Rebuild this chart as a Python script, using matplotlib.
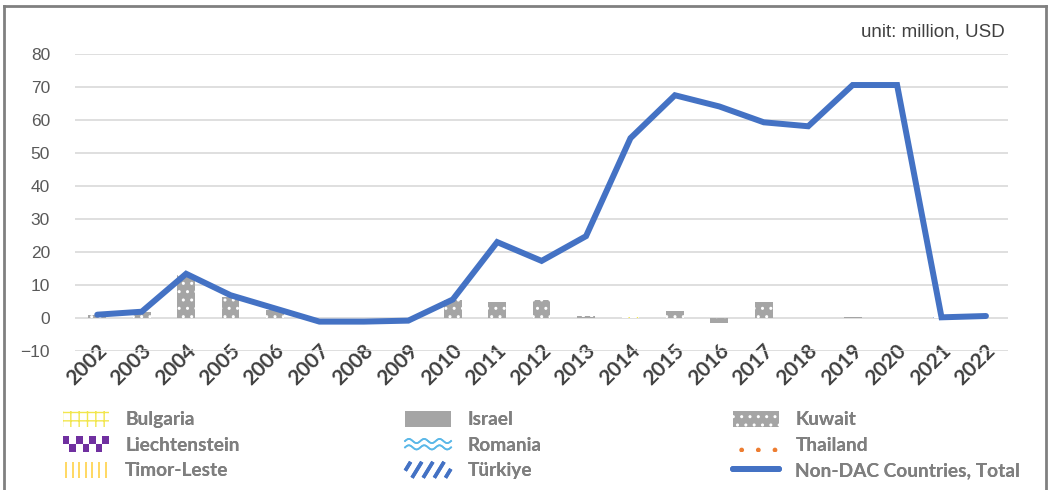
import matplotlib
matplotlib.use('Agg')
import matplotlib.pyplot as plt
import matplotlib.patches as mpatches
import matplotlib.transforms as mtransforms
from matplotlib.lines import Line2D
from matplotlib.legend_handler import HandlerBase
import numpy as np

years = [str(y) for y in range(2002, 2023)]

# per-country contributions (million USD)
bulgaria      = [0, 0, 0, 0, 0, 0, 0, 0, 0, 0, 0, 0, 0.15, 0, 0, 0, 0, 0, 0, 0, 0]
israel        = [0, 0, 0, 0, 0, 0, 0, 0, 0, 0, 0, 0.3, 0, 0, 0, 0, 0, 0.2, 0, 0, 0]
kuwait        = [0.8, 1.7, 13.0, 6.5, 2.5, 0, 0, 0, 5.6, 4.9, 5.5, 0.4, 0, 2.1, -1.6, 4.7, 0, 0, 0, 0, 0]
liechtenstein = [0, 0, 0, 0, 0, 0, 0, 0, 0, 0, 0, 0, 0, 0, 0, 0, 0, 0, 0, 0, 0]
romania       = [0, 0, 0, 0, 0, 0, 0, 0, 0, 0, 0, 0, 0, 0, 0, 0, 0, 0, 0, 0, 0]
thailand      = [0, 0, 0, 0, 0, 0, 0, 0, 0, 0, 0, 0, 0.1, 0, 0, 0, 0, 0, 0, 0, 0]
timor_leste   = [0, 0, 0, 0, 0, 0, 0, 0, 0, 0, 0, 0, 0, 0, 0, 0, 0, 0, 0, 0, 0]
turkiye       = [0, 0, 0, 0, 0, 0, 0, 0, 0, 0, 0, 0, 0, 0, 0, 0, 0, 0, 0, 0.3, 0]

total = [1.0, 1.9, 13.4, 6.9, 2.9, -1.1, -1.1, -0.8, 5.6, 23.0, 17.3, 24.8,
         54.5, 67.5, 64.1, 59.3, 58.1, 70.6, 70.6, 0.2, 0.6]

series = [
    ('Bulgaria', bulgaria, dict(facecolor='white', edgecolor='#f2e64d', hatch='++')),
    ('Israel', israel, dict(facecolor='#a5a5a5', edgecolor='#a5a5a5')),
    ('Kuwait', kuwait, dict(facecolor='#a5a5a5', edgecolor='white', hatch='..')),
    ('Liechtenstein', liechtenstein, dict(facecolor='#7030a0', edgecolor='#7030a0')),
    ('Romania', romania, dict(facecolor='white', edgecolor='#5bb8e8', hatch='--')),
    ('Thailand', thailand, dict(facecolor='white', edgecolor='#ed7d31', hatch='.')),
    ('Timor-Leste', timor_leste, dict(facecolor='white', edgecolor='#ffd966', hatch='||')),
    ('Türkiye', turkiye, dict(facecolor='white', edgecolor='#4472c4', hatch='////')),
]

fig = plt.figure(figsize=(10.48, 4.9), dpi=100)
ax = fig.add_axes([0.0716, 0.2837, 0.8904, 0.6061])

x = np.arange(len(years))
pos_bottom = np.zeros(len(years))
neg_bottom = np.zeros(len(years))
handles = {}
for name, vals, style in series:
    v = np.array(vals, dtype=float)
    bottom = np.where(v >= 0, pos_bottom, neg_bottom)
    ax.bar(x, v, 0.4, bottom=bottom, linewidth=0, zorder=2, **style)
    handles[name] = mpatches.Patch(linewidth=0, **style)
    pos_bottom += np.where(v > 0, v, 0)
    neg_bottom += np.where(v < 0, v, 0)

ax.plot(x, total, color='#4472c4', lw=4.3, solid_capstyle='round',
        solid_joinstyle='miter', zorder=3)
handles['Non-DAC Countries, Total'] = Line2D([], [], color='#4472c4', lw=4.3,
                                             solid_capstyle='round')

ax.set_xlim(-0.5, len(years) - 0.5)
ax.set_ylim(-10, 80)
ax.set_yticks(range(-10, 81, 10))
ax.yaxis.grid(True, color='#d9d9d9', lw=1.2)
ax.set_axisbelow(True)
for s in ax.spines.values():
    s.set_visible(False)
ax.tick_params(length=0)
ax.tick_params(axis='y', labelsize=12.5, labelcolor='#595959', pad=18)
for t in ax.get_yticklabels():
    t.set_fontfamily('Liberation Sans')

ax.set_xticks(x)
ax.set_xticklabels(years, rotation=45, ha='right', va='center',
                   rotation_mode='anchor', fontsize=15, fontweight='bold',
                   color='#404040', family='Lato')
ax.tick_params(axis='x', pad=0)
shift = mtransforms.ScaledTranslation(0.065, 0.035, fig.dpi_scale_trans)
for t in ax.get_xticklabels():
    t.set_transform(t.get_transform() + shift)

fig.text(0.959, 0.935, 'unit: million, USD', ha='right', va='center',
         fontsize=13.5, color='#404040', family='Liberation Sans')


class CheckerHandler(HandlerBase):
    def create_artists(self, legend, orig_handle, xdescent, ydescent,
                       width, height, fontsize, trans):
        arts = []
        n = 7
        w = width / n
        h = height * 0.5
        for i in range(n):
            yy = -ydescent + (h if i % 2 == 0 else 0)
            arts.append(mpatches.Rectangle((-xdescent + i * w, yy), w, h,
                                           facecolor='#7030a0', edgecolor='none',
                                           transform=trans))
        return arts


class WaveHandler(HandlerBase):
    def create_artists(self, legend, orig_handle, xdescent, ydescent,
                       width, height, fontsize, trans):
        xs = np.linspace(0, width, 80)
        arts = []
        for frac in (0.3, 0.7):
            ys = -ydescent + height * frac + 1.5 * np.sin(xs / width * 2 * np.pi * 3)
            arts.append(Line2D(xs - xdescent, ys, color='#5bb8e8', lw=1.2,
                               transform=trans))
        return arts


class StripeHandler(HandlerBase):
    """Parallel stripes clipped to the handle box; lean is the x shift over full height."""
    def __init__(self, color, n, lean, lw):
        super().__init__()
        self.color, self.n, self.lean, self.lw = color, n, lean, lw

    def create_artists(self, legend, orig_handle, xdescent, ydescent,
                       width, height, fontsize, trans):
        arts = []
        step = (width + abs(self.lean)) / self.n
        for i in range(self.n):
            c = step * (i + 0.5) - max(self.lean, 0)
            ys = np.linspace(0, height, 30)
            xs = c + self.lean * ys / height
            keep = (xs >= 0) & (xs <= width)
            if keep.sum() < 2:
                continue
            arts.append(Line2D(xs[keep] - xdescent, ys[keep] - ydescent,
                               color=self.color, lw=self.lw,
                               solid_capstyle='butt', transform=trans))
        return arts


columns = [
    (['Bulgaria', 'Liechtenstein', 'Timor-Leste'], 0.060),
    (['Israel', 'Romania', 'Türkiye'], 0.3865),
    (['Kuwait', 'Thailand', 'Non-DAC Countries, Total'], 0.6995),
]
hmap = {handles['Liechtenstein']: CheckerHandler(),
        handles['Romania']: WaveHandler(),
        handles['Timor-Leste']: StripeHandler('#ffd966', 7, 0, 1.4),
        handles['Türkiye']: StripeHandler('#4472c4', 5, 7, 2.6)}
for names, xpos in columns:
    leg = fig.legend([handles[n] for n in names], names, loc='upper left',
                     bbox_to_anchor=(xpos, 0.162), frameon=False,
                     handlelength=2.4, handleheight=0.9, handletextpad=0.85,
                     labelspacing=0.42, borderaxespad=0, borderpad=0,
                     handler_map=hmap,
                     prop={'family': 'Lato', 'weight': 'bold', 'size': 13.8})
    for t in leg.get_texts():
        t.set_color('#7f7f7f')
    fig.add_artist(leg)

# outer frame
frame_kw = dict(color='#808080', lw=2, transform=fig.transFigure)
fig.add_artist(Line2D([0.004, 0.004], [0, 0.988], **frame_kw))
fig.add_artist(Line2D([0.004, 0.998], [0.988, 0.988], **frame_kw))
fig.add_artist(Line2D([0.998, 0.998], [0, 0.988], **frame_kw))

plt.savefig('out.png', dpi=100)
